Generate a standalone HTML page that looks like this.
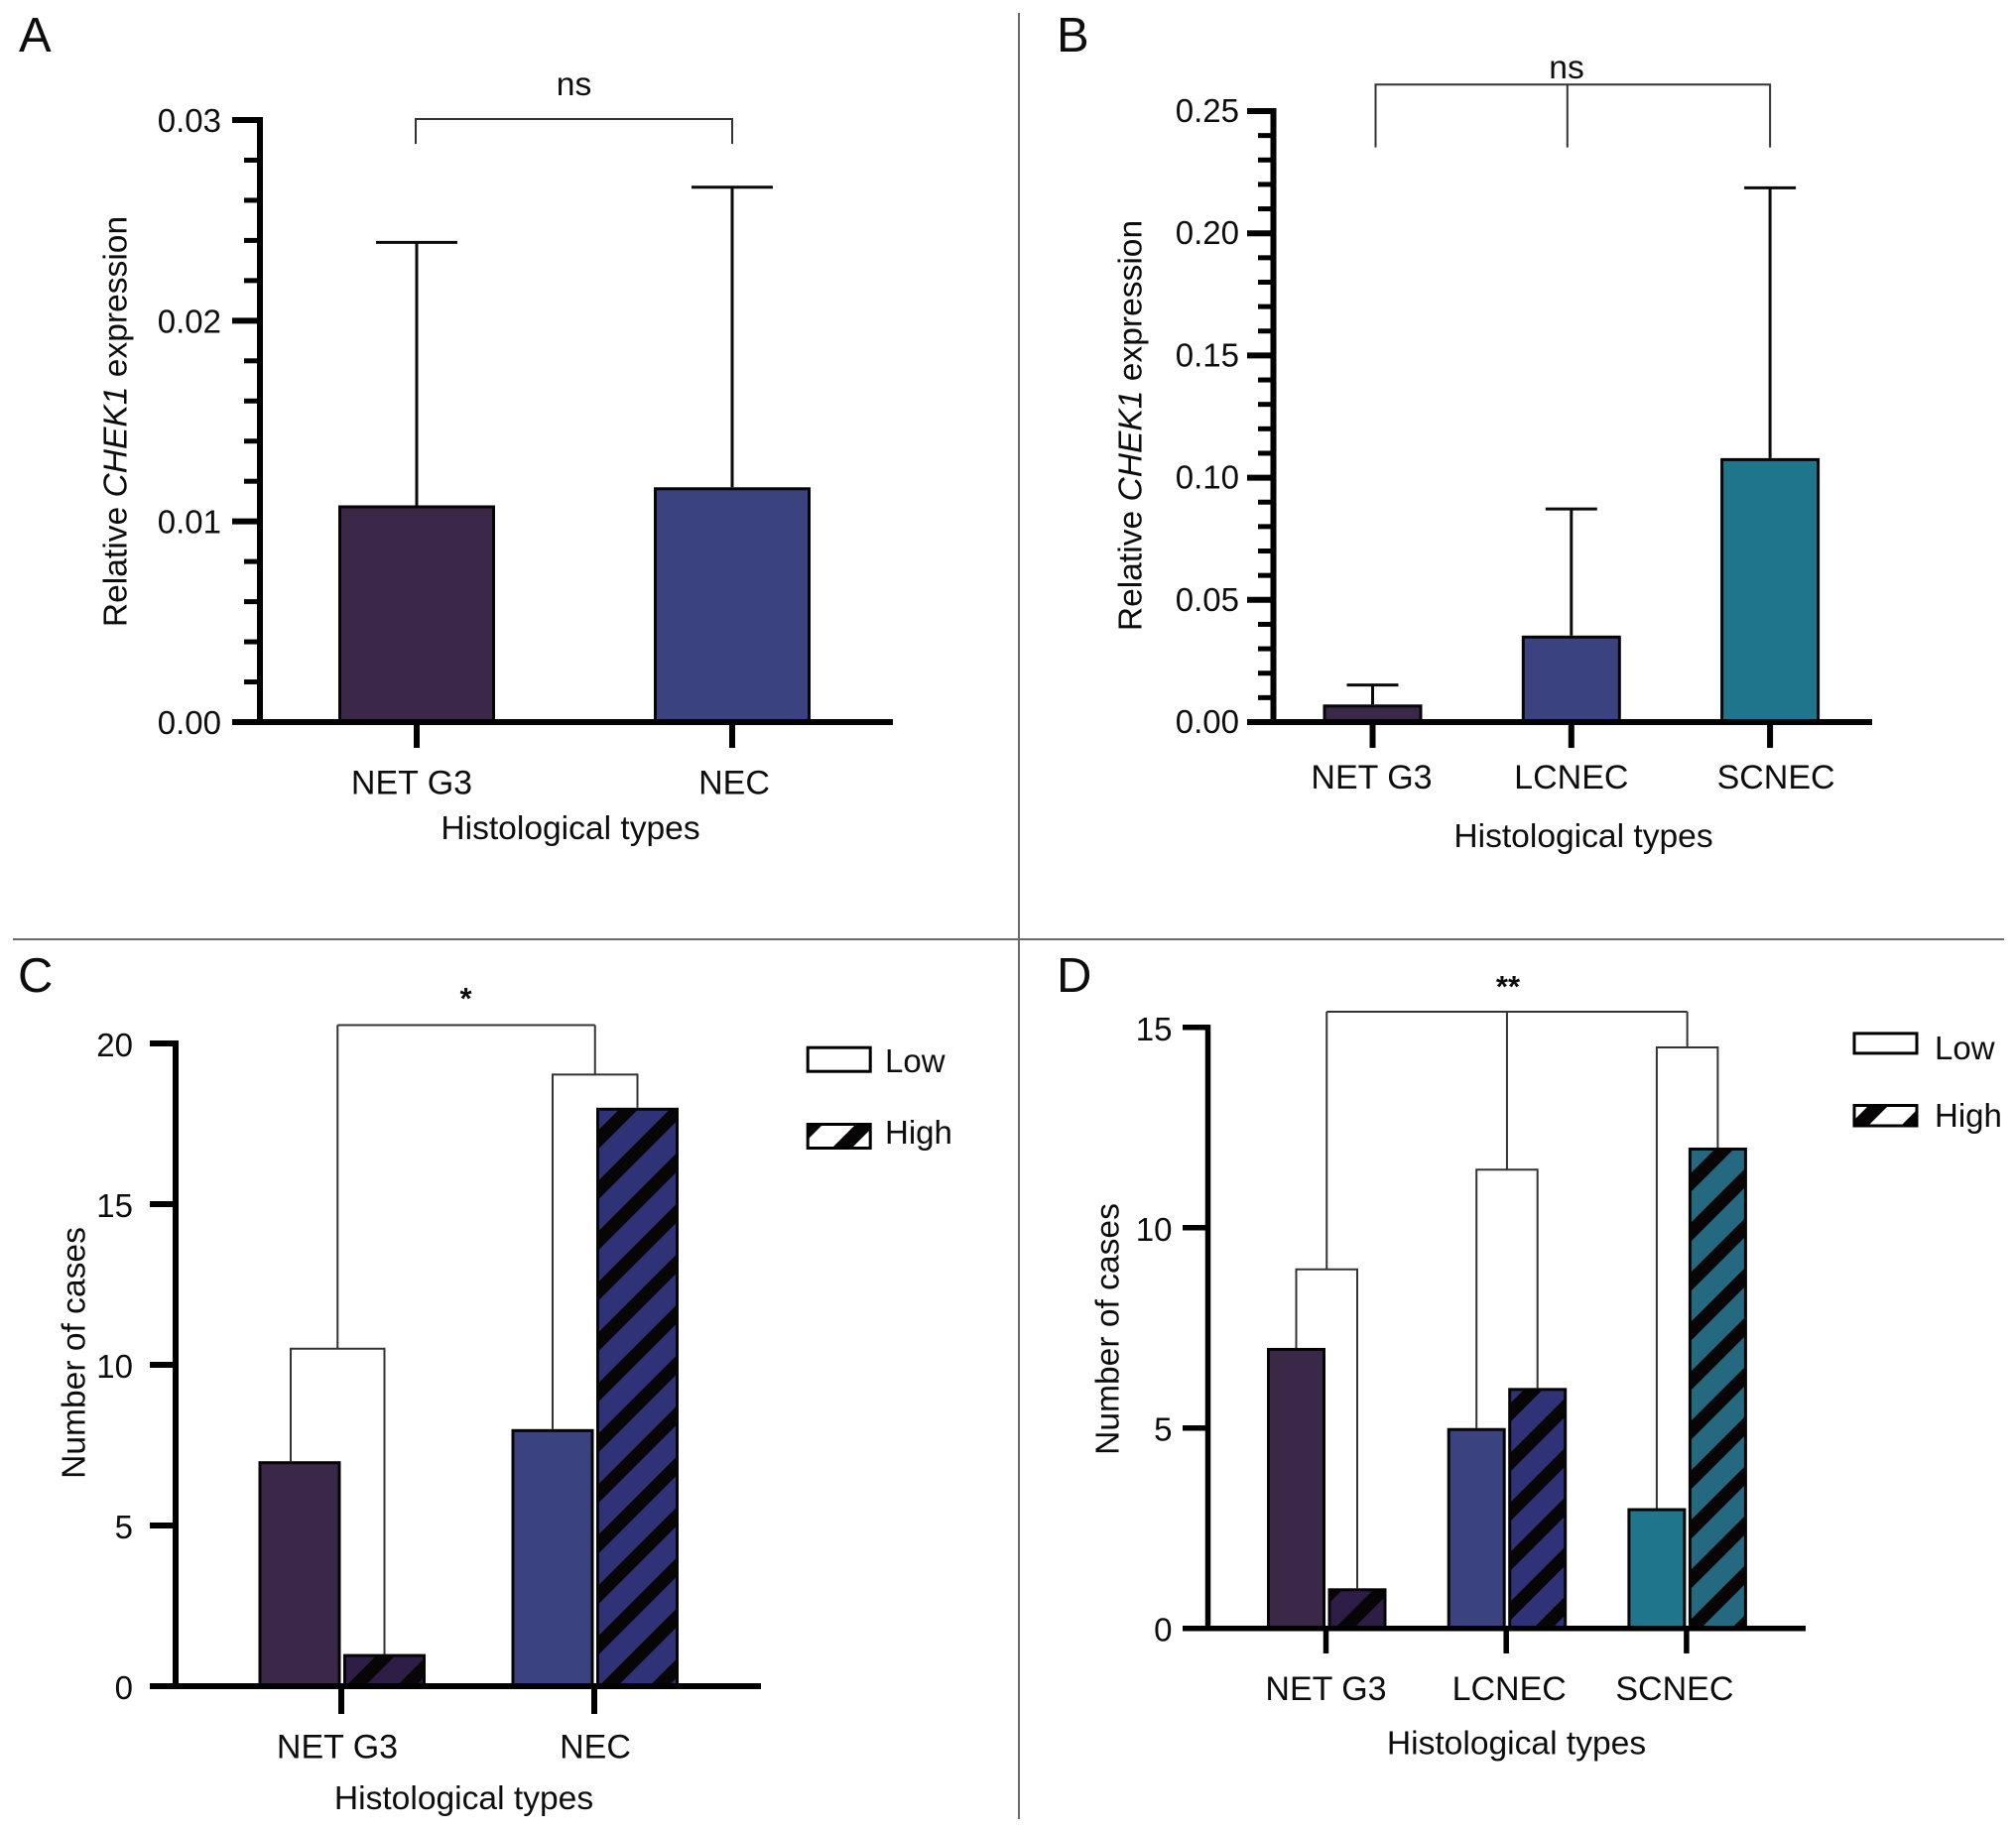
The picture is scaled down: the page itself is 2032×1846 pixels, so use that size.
<!DOCTYPE html>
<html lang="en">
<head>
<meta charset="utf-8">
<title>CHEK1 expression and number of cases by histological type</title>
<style>
html,body{margin:0;padding:0;background:#fff;}
svg{display:block;}
text{font-family:"Liberation Sans",Arial,sans-serif;fill:#0d0d0d;font-size:33.6px;}
text.tick{font-size:33px;}
text.cat{font-size:34px;}
.panel-letter{font-size:49px;}
.star{font-weight:bold;font-size:31px;}
</style>
</head>
<body>
<svg id="figure" xmlns="http://www.w3.org/2000/svg" width="2032" height="1846" viewBox="0 0 2032 1846">
  <rect x="0" y="0" width="2032" height="1846" fill="#ffffff"/>
  <defs id="defs"></defs>

  <line x1="1027" y1="13" x2="1027" y2="1834" stroke="#6a6a6a" stroke-width="2"/>
  <line x1="13" y1="947" x2="2020" y2="947" stroke="#6a6a6a" stroke-width="2"/>

  <text class="panel-letter" x="19" y="52">A</text>
  <text class="panel-letter" x="1065" y="52">B</text>
  <text class="panel-letter" x="18" y="1000">C</text>
  <text class="panel-letter" x="1065" y="1000">D</text>

  <text text-anchor="middle" transform="translate(127.5,425) rotate(-90)">Relative <tspan font-style="italic">CHEK1</tspan> expression</text>
  <text text-anchor="middle" transform="translate(1150.5,429) rotate(-90)">Relative <tspan font-style="italic">CHEK1</tspan> expression</text>
  <text text-anchor="middle" transform="translate(85.5,1364) rotate(-90)">Number of cases</text>
  <text text-anchor="middle" transform="translate(1127.5,1340) rotate(-90)">Number of cases</text>

  <text text-anchor="middle" x="575" y="846">Histological types</text>
  <text text-anchor="middle" x="1596" y="854">Histological types</text>
  <text text-anchor="middle" x="467.5" y="1824">Histological types</text>
  <text text-anchor="middle" x="1528.5" y="1768.5">Histological types</text>

  <text text-anchor="middle" x="578.5" y="96">ns</text>
  <text text-anchor="middle" x="1579" y="79">ns</text>
  <text class="star" text-anchor="middle" x="469.5" y="1017">*</text>
  <text class="star" text-anchor="middle" x="1520" y="1005">**</text>

  <g id="plots"></g>

  <rect x="814.2" y="1056.2" width="63" height="24" fill="#ffffff" stroke="#000" stroke-width="3"/>
  <text class="tick" x="892" y="1081">Low</text>
  <rect x="814.2" y="1133.5" width="63" height="24" fill="#ffffff"/>
  <rect id="legend-c-stripes" x="814.2" y="1133.5" width="63" height="24" stroke="#000" stroke-width="3"/>
  <text class="tick" x="892" y="1153">High</text>

  <rect x="1869" y="1041.9" width="63" height="20" fill="#ffffff" stroke="#000" stroke-width="3"/>
  <text class="tick" x="1950" y="1068">Low</text>
  <rect x="1869" y="1114.5" width="63" height="20.5" fill="#ffffff"/>
  <rect id="legend-d-stripes" x="1869" y="1114.5" width="63" height="20.5" stroke="#000" stroke-width="3"/>
  <text class="tick" x="1950" y="1136">High</text>
</svg>

<script>
// ---- Panel A data ----
const panelACategories = ['NET G3', 'NEC'];
const panelAMeans = [0.0108, 0.0117];
const panelAErrorTops = [0.0239, 0.02665];
const panelATicks = [0, 0.01, 0.02, 0.03];
const panelATickLabels = ['0.00', '0.01', '0.02', '0.03'];
const panelABracket = [0.03005, 0.02881];

// ---- Panel B data ----
const panelBCategories = ['NET G3', 'LCNEC', 'SCNEC'];
const panelBMeans = [0.0072, 0.0354, 0.108];
const panelBErrorTops = [0.01516, 0.0872, 0.2186];
const panelBTicks = [0, 0.05, 0.10, 0.15, 0.20, 0.25];
const panelBTickLabels = ['0.00', '0.05', '0.10', '0.15', '0.20', '0.25'];
const panelBBracket = [0.26085, 0.23512];

// ---- Panel C data ----
const panelCCategories = ['NET G3', 'NEC'];
const panelCLow = [7, 8];
const panelCHigh = [1, 18];
const panelCTicks = [0, 5, 10, 15, 20];
const panelCTickLabels = ['0', '5', '10', '15', '20'];
const panelCGroupBrackets = [10.5, 19.03];
const panelCTopBracket = 20.57;

// ---- Panel D data ----
const panelDCategories = ['NET G3', 'LCNEC', 'SCNEC'];
const panelDLow = [7, 5, 3];
const panelDHigh = [1, 6, 12];
const panelDTicks = [0, 5, 10, 15];
const panelDTickLabels = ['0', '5', '10', '15'];
const panelDGroupBrackets = [8.96, 11.45, 14.5];
const panelDTopBracket = 15.39;

// ---- Series colours ----
const lowColours = ['#3b2747', '#3a4280', '#1f758b'];
const highColours = ['#2e1d47', '#2f3276', '#24697f'];

const NS = 'http://www.w3.org/2000/svg';
const plots = document.getElementById('plots');
const defs = document.getElementById('defs');

function make(tag, attrs, parent) {
  const el = document.createElementNS(NS, tag);
  for (const k in attrs) el.setAttribute(k, attrs[k]);
  (parent || plots).appendChild(el);
  return el;
}

function stripePattern(id, phase, sumPeriod, sumThickness) {
  const p = make('pattern', {
    id: id,
    patternUnits: 'userSpaceOnUse',
    width: 100,
    height: sumPeriod / Math.SQRT2,
    patternTransform: 'translate(' + phase + ',0) rotate(-45)'
  }, defs);
  make('rect', { x: 0, y: 0, width: 100, height: sumThickness / Math.SQRT2, fill: '#080506' }, p);
}

stripePattern('stripes-c', 1793.5, 51, 19);
stripePattern('stripes-d', 3137, 50, 19);
stripePattern('stripes-legend-c', 1996, 53, 20);
stripePattern('stripes-legend-d', 2998, 53, 20);
document.getElementById('legend-c-stripes').setAttribute('fill', 'url(#stripes-legend-c)');
document.getElementById('legend-d-stripes').setAttribute('fill', 'url(#stripes-legend-d)');

function drawAxes(cfg, categories, ticks, tickLabels) {
  const y = cfg.y;
  const yAxis = make('line', { x1: cfg.axisX, y1: y(ticks[ticks.length - 1]) - cfg.thick / 2, x2: cfg.axisX, y2: cfg.y0, stroke: '#000', 'stroke-width': cfg.thick });
  
  
  const xAxis = make('line', { x1: cfg.axisLeft, y1: cfg.y0, x2: cfg.axisRight, y2: cfg.y0, stroke: '#000', 'stroke-width': cfg.thick });
  
  

  ticks.forEach(function (v, i) {
    const t = make('line', { x1: cfg.axisLeft, y1: y(v), x2: cfg.axisX, y2: y(v), stroke: '#000', 'stroke-width': cfg.thick });
    
    
    const lab = make('text', { x: cfg.labelRight, y: y(v) + cfg.labelDrop, 'text-anchor': 'end', class: 'tick' });
    lab.textContent = tickLabels[i];
    
    
    if (cfg.minorLeft && i < ticks.length - 1) {
      for (let k = 1; k < cfg.minorCount; k++) {
        const mv = v + (ticks[i + 1] - v) * k / cfg.minorCount;
        const m = make('line', { x1: cfg.minorLeft, y1: y(mv), x2: cfg.axisX, y2: y(mv), stroke: '#000', 'stroke-width': 5 });
        
        
      }
    }
  });

  categories.forEach(function (c, i) {
    const cx = cfg.x(i);
    const t = make('line', { x1: cx, y1: cfg.y0, x2: cx, y2: cfg.tickBottom, stroke: '#000', 'stroke-width': cfg.thick });
    
    
    const lab = make('text', { x: cx + cfg.labelNudge[i], y: cfg.catBaseline, 'text-anchor': 'middle', class: 'cat' });
    lab.textContent = c;
    
    
  });
}

function bracketPath(points, name) {
  const d = points.map(function (p, i) { return (i ? 'L' : 'M') + p[0] + ' ' + p[1]; }).join(' ');
  const el = make('path', { d: d, fill: 'none', stroke: '#333', 'stroke-width': 2 });
  
  
}

function drawMeanPanel(cfg, categories, means, errorTops, ticks, tickLabels, bracket) {
  const y = cfg.y;
  const sw = 3;
  const top = y(bracket[0]);
  const bot = y(bracket[1]);
  const xs = categories.map(function (c, i) { return cfg.x(i) + cfg.bracketNudge[i]; });
  bracketPath([[xs[0], bot], [xs[0], top], [xs[xs.length - 1], top], [xs[xs.length - 1], bot]], cfg.id + '-bracket');
  for (let i = 1; i < xs.length - 1; i++) {
    bracketPath([[xs[i], top], [xs[i], bot]], cfg.id + '-bracket-drop');
  }
  means.forEach(function (m, i) {
    const cx = cfg.x(i);
    const stem = make('line', { x1: cx, y1: y(errorTops[i]), x2: cx, y2: y(m), stroke: '#0a0a0a', 'stroke-width': 3 });
    
    
    const cap = make('line', { x1: cx - cfg.capWidth / 2, y1: y(errorTops[i]), x2: cx + cfg.capWidth / 2, y2: y(errorTops[i]), stroke: '#0a0a0a', 'stroke-width': 3 });
    
    
    const bar = make('rect', {
      x: cx - cfg.barWidth / 2 + sw / 2,
      y: y(m) + sw / 2,
      width: cfg.barWidth - sw,
      height: Math.max(0, cfg.y0 - y(m) - sw / 2),
      fill: lowColours[i],
      stroke: '#050505',
      'stroke-width': sw
    });
    
    
  });
  drawAxes(cfg, categories, ticks, tickLabels);
}

function drawCountPanel(cfg, categories, low, high, ticks, tickLabels, groupBrackets, topBracket) {
  const y = cfg.y;
  const sw = 3;
  const mids = [];
  const topY = y(topBracket);

  categories.forEach(function (c, i) {
    const t = cfg.x(i);
    const lowL = t - cfg.lowOffset;
    const highL = t + cfg.highOffset;
    const lowC = lowL + cfg.barWidth / 2 + cfg.bracketNudge[i];
    const highC = highL + cfg.barWidth / 2;
    const by = y(groupBrackets[i]);
    bracketPath([[lowC, y(low[i])], [lowC, by], [highC, by], [highC, y(high[i])]], cfg.id + '-group-bracket');
    mids.push((lowC + highC) / 2);
    bracketPath([[mids[i], by], [mids[i], topY]], cfg.id + '-bracket-drop');
  });
  bracketPath([[mids[0], topY], [mids[mids.length - 1], topY]], cfg.id + '-top-bracket');

  categories.forEach(function (c, i) {
    const t = cfg.x(i);
    const lowBar = make('rect', {
      x: t - cfg.lowOffset + sw / 2,
      y: y(low[i]) + sw / 2,
      width: cfg.barWidth - sw,
      height: Math.max(0, cfg.y0 - y(low[i]) - sw / 2),
      fill: lowColours[i],
      stroke: '#050505',
      'stroke-width': sw
    });
    
    

    const hx = t + cfg.highOffset + sw / 2;
    const hy = y(high[i]) + sw / 2;
    const hw = cfg.barWidth - sw;
    const hh = Math.max(0, cfg.y0 - y(high[i]) - sw / 2);
    const base = make('rect', { x: hx, y: hy, width: hw, height: hh, fill: highColours[i] });
    
    
    const stripes = make('rect', { x: hx, y: hy, width: hw, height: hh, fill: 'url(#' + cfg.pattern + ')', stroke: '#050505', 'stroke-width': sw });
    
    
  });
  drawAxes(cfg, categories, ticks, tickLabels);
}

function scaleY(y0, yTop, max) {
  return function (v) { return y0 - v / max * (y0 - yTop); };
}
function scaleX(start, step) {
  return function (i) { return start + i * step; };
}

drawMeanPanel({
  id: 'panel-a', y: scaleY(728, 121, panelATicks[panelATicks.length - 1]), x: scaleX(420, 318),
  y0: 728, axisX: 262, axisLeft: 234, axisRight: 900, minorLeft: 246, minorCount: 5, thick: 6,
  tickBottom: 754, labelRight: 223, labelDrop: 12, catBaseline: 800.5, labelNudge: [-5, 2],
  barWidth: 158, capWidth: 82, bracketNudge: [-1, 0]
}, panelACategories, panelAMeans, panelAErrorTops, panelATicks, panelATickLabels, panelABracket);

drawMeanPanel({
  id: 'panel-b', y: scaleY(728, 112, panelBTicks[panelBTicks.length - 1]), x: scaleX(1383.5, 200.3),
  y0: 728, axisX: 1283.5, axisLeft: 1257, axisRight: 1887, minorLeft: 1268, minorCount: 5, thick: 6,
  tickBottom: 754, labelRight: 1249, labelDrop: 11, catBaseline: 795, labelNudge: [-1, 0, 6],
  barWidth: 100, capWidth: 52, bracketNudge: [3, -4, 0]
}, panelBCategories, panelBMeans, panelBErrorTops, panelBTicks, panelBTickLabels, panelBBracket);

drawCountPanel({
  id: 'panel-c', y: scaleY(1700, 1052, panelCTicks[panelCTicks.length - 1]), x: scaleX(344, 255),
  y0: 1700, axisX: 177, axisLeft: 151, axisRight: 767, thick: 6,
  tickBottom: 1728, labelRight: 134, labelDrop: 13, catBaseline: 1772.5, labelNudge: [-4, 1],
  barWidth: 83, lowOffset: 83.5, highOffset: 2, bracketNudge: [-9, 0], pattern: 'stripes-c'
}, panelCCategories, panelCLow, panelCHigh, panelCTicks, panelCTickLabels, panelCGroupBrackets, panelCTopBracket);

drawCountPanel({
  id: 'panel-d', y: scaleY(1641.7, 1035.8, panelDTicks[panelDTicks.length - 1]), x: scaleX(1336.5, 181.7),
  y0: 1641.7, axisX: 1217.5, axisLeft: 1192, axisRight: 1820, thick: 5.5,
  tickBottom: 1667, labelRight: 1181.5, labelDrop: 13, catBaseline: 1714, labelNudge: [0, 3, -12],
  barWidth: 59, lowOffset: 59.5, highOffset: 2, bracketNudge: [0, 0, 0], pattern: 'stripes-d'
}, panelDCategories, panelDLow, panelDHigh, panelDTicks, panelDTickLabels, panelDGroupBrackets, panelDTopBracket);
</script>
</body>
</html>
